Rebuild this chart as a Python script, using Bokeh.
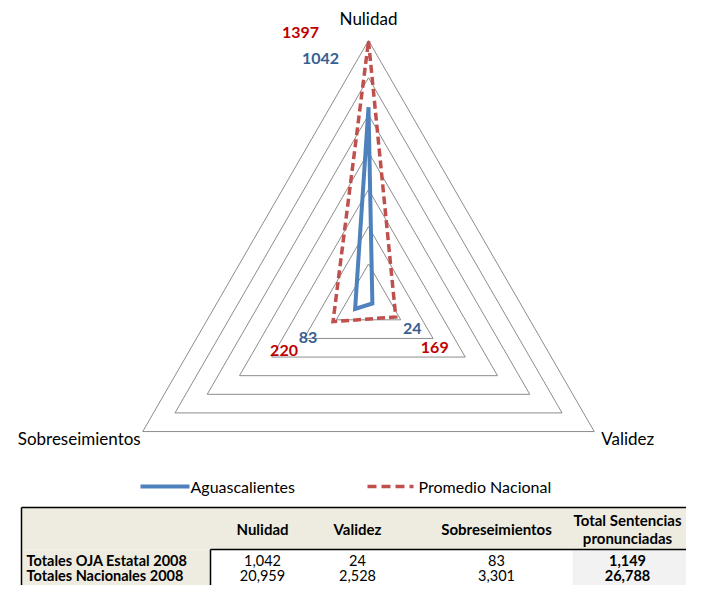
import math
from bokeh.plotting import figure
from bokeh.models import Range1d
from bokeh.core.properties import value
from bokeh.embed import file_html
from bokeh.resources import INLINE

# ---------------- data ----------------
categories = ["Nulidad", "Validez", "Sobreseimientos"]
aguascalientes = [1042, 24, 83]
promedio_nacional = [1397, 169, 220]
grid_levels = [200, 400, 600, 800, 1000, 1200, 1400]
series_names = ["Aguascalientes", "Promedio Nacional"]

table_header = ["Nulidad", "Validez", "Sobreseimientos", "Total Sentencias\npronunciadas"]
table_row_labels = ["Totales OJA Estatal 2008", "Totales Nacionales  2008"]
table_oja = ["1,042", "24", "83", "1,149"]
table_nac = ["20,959", "2,528", "3,301", "26,788"]

# ---------------- layout / style ----------------
FONT = "Lato"
W, H = 686, 585
CX, CY, R = 368.0, 300.7, 260.7   # radar centre and radius (pixels)
VMAX = grid_levels[-1]
BLUE, RED = "#4F81BD", "#C0504D"
BLUE_LBL, RED_LBL = "#376092", "#C00000"

p = figure(width=W, height=H, x_range=Range1d(0, W), y_range=Range1d(H, 0),
           output_backend="svg", toolbar_location=None, min_border=0)
p.axis.visible = False
p.grid.visible = False
p.outline_line_color = None
p.background_fill_color = "white"
p.border_fill_color = "white"

def polar(v, i):
    a = math.radians(90 - 120 * i)
    r = v / VMAX * R
    return CX + r * math.cos(a), CY - r * math.sin(a)

# grid rings
gxs, gys = [], []
for lv in grid_levels:
    pts = [polar(lv, i) for i in range(len(categories))] + [polar(lv, 0)]
    gxs.append([q[0] for q in pts])
    gys.append([q[1] for q in pts])
p.multi_line(gxs, gys, line_color="#8C8C8C", line_width=1)

# category labels
cat_pos = [polar(VMAX, i) for i in range(len(categories))]
cat_off = [(0, -22, "center"), (7, 7, "left"), (-2, 7, "right")]
for (x, y), name, (dx, dy, al) in zip(cat_pos, categories, cat_off):
    p.text([x + dx], [y + dy], text=[name], text_font=value(FONT), text_font_size="17px",
           text_align=al, text_baseline="middle", text_color="#000000")

# series
def closed(vals):
    pts = [polar(v, i) for i, v in enumerate(vals)] + [polar(vals[0], 0)]
    return [q[0] for q in pts], [q[1] for q in pts]

rx, ry = closed(promedio_nacional)
bx, by = closed(aguascalientes)
p.line(bx, by, line_color=BLUE, line_width=4, line_join="miter")
p.line(rx, ry, line_color=RED, line_width=3.5, line_dash="8 4", line_join="miter")

# data labels
blue_off = [(-48, -49), (40, 25), (-47, 29)]
red_off = [(-68, -9), (39, 31), (-49, 29)]
for vals, offs, col in ((aguascalientes, blue_off, BLUE_LBL), (promedio_nacional, red_off, RED_LBL)):
    for i, v in enumerate(vals):
        x, y = polar(v, i)
        p.text([x + offs[i][0]], [y + offs[i][1]], text=[str(v)], text_font=value(FONT),
               text_font_size="16px", text_font_style="bold", text_align="center",
               text_baseline="middle", text_color=col)

# legend
p.line([140, 189], [486, 486], line_color=BLUE, line_width=4)
p.text([190], [486], text=[series_names[0]], text_font=value(FONT), text_font_size="16px",
       text_align="left", text_baseline="middle", text_color="#000000")
p.line([367, 413], [486, 486], line_color=RED, line_width=3.5, line_dash="9 5")
p.text([418], [486], text=[series_names[1]], text_font=value(FONT), text_font_size="16px",
       text_align="left", text_baseline="middle", text_color="#000000")

# table
T_TOP, T_HDR, T_LEFT, T_COL1, T_TOTAL = 507, 549, 21, 210, 572
p.quad(left=[T_LEFT], right=[W], top=[T_TOP], bottom=[T_HDR], fill_color="#EEECE1", line_color=None)
p.quad(left=[T_LEFT], right=[T_COL1], top=[T_HDR], bottom=[H], fill_color="#EEECE1", line_color=None)
p.quad(left=[T_TOTAL], right=[W], top=[T_HDR], bottom=[H], fill_color="#F2F2F2", line_color=None)
p.multi_line([[T_LEFT, W], [T_LEFT, T_LEFT], [T_COL1, W], [T_COL1, T_COL1]],
             [[T_TOP, T_TOP], [T_TOP, H], [T_HDR, T_HDR], [T_HDR, H]],
             line_color="#000000", line_width=1.5)

col_x = [262, 357, 496, 627]
for x, h in zip(col_x, table_header):
    lines = h.split("\n")
    n = len(lines)
    for k, ln in enumerate(lines):
        y = 528 + (k - (n - 1) / 2) * 18
        p.text([x], [y], text=[ln], text_font=value(FONT), text_font_size="15px",
               text_font_style="bold", text_align="center", text_baseline="middle",
               text_color="#000000")

row_y = [560, 575]
for y, lbl, vals in zip(row_y, table_row_labels, (table_oja, table_nac)):
    p.text([26], [y], text=[lbl], text_font=value(FONT), text_font_size="14.5px",
           text_font_style="bold", text_align="left", text_baseline="middle", text_color="#000000")
    for j, (x, v) in enumerate(zip(col_x, vals)):
        p.text([x], [y], text=[v], text_font=value(FONT), text_font_size="14.5px",
               text_font_style="bold" if j == 3 else "normal", text_align="center",
               text_baseline="middle", text_color="#000000")

open("out.html", "w").write(file_html(p, INLINE))
